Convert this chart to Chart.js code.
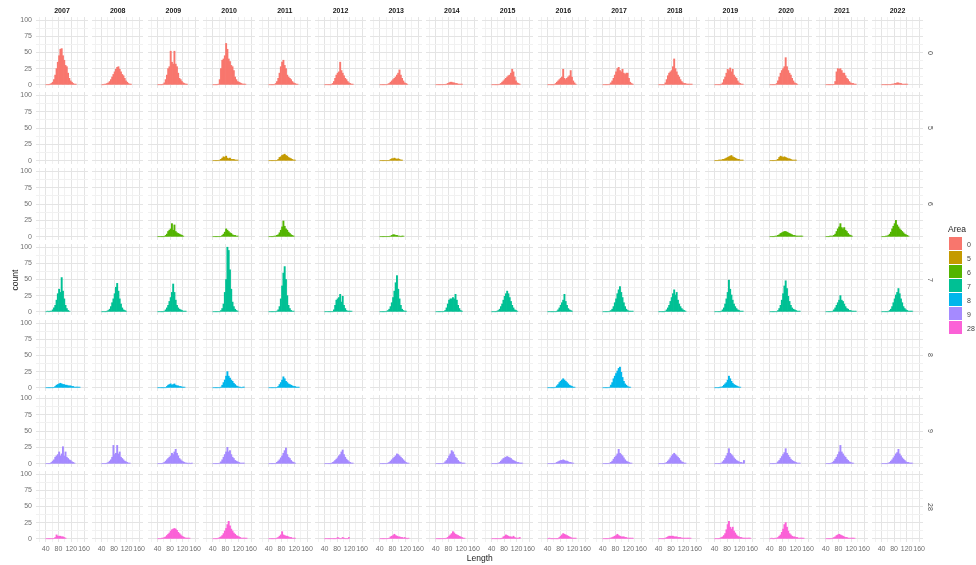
<!DOCTYPE html>
<html>
<head>
<meta charset="utf-8">
<title>Length by Area and Year</title>
<script src="https://cdn.jsdelivr.net/npm/chart.js@4.4.1/dist/chart.umd.min.js"></script>
<style>
  body { margin: 0; background: #fff; font-family: "Liberation Sans", Arial, sans-serif; }
  #wrap { position: relative; width: 976px; height: 565px; overflow: hidden; }
  #wrap canvas { position: absolute; }
  .lab { position: absolute; white-space: nowrap; line-height: 1; }
  .year { font-size: 7px; font-weight: bold; color: #1a1a1a; transform: translate(-50%, -50%); }
  .strip { font-size: 7px; color: #4d4d4d; transform: translate(-50%, -50%) rotate(90deg); }
  .key { position: absolute; width: 13px; height: 13px; }
</style>
</head>
<body>
<div id="wrap"></div>
<script>
'use strict';

var years = ['2007', '2008', '2009', '2010', '2011', '2012', '2013', '2014',
  '2015', '2016', '2017', '2018', '2019', '2020', '2021', '2022'];
var areas = ['0', '5', '6', '7', '8', '9', '28'];
var areaColors = ['#F8766D', '#C49A00', '#53B400', '#00C094', '#00B6EB', '#A58AFF', '#FB61D7'];

// histogram counts, bins of 4 starting at Length 40 (one list per year)
var binStart = 40;
var binWidth = 4;
var xTicks = [40, 80, 120, 160];
var yTicks = [0, 25, 50, 75, 100];

var area0 = [
  [0,0,0,1,2,4,8,15,25,35,45,55,56,45,38,30,28,18,10,6,4,2,1,1],
  [0,0,1,1,2,3,5,8,12,16,20,24,27,28,24,20,16,14,10,6,4,2,1,1],
  [0,0,0,0,1,3,8,15,25,28,52,35,32,52,32,28,18,10,8,5,3,2,1,1],
  [0,0,0,0,1,8,25,38,40,45,64,55,40,36,30,28,22,12,8,5,4,3,2,1,1,1],
  [0,0,0,0,0,2,5,10,18,28,35,38,30,25,15,12,10,8,5,3,2,1,1],
  [0,0,0,0,0,0,2,5,10,15,18,20,35,22,18,14,10,8,5,3,2,1,1],
  [0,0,0,0,0,0,1,2,4,6,8,10,12,15,18,23,15,10,6,3,2,1],
  [0,0,0,0,0,0,0,0,1,2,3,4,4,3,3,2,2,1,1,1,1],
  [0,0,0,0,0,0,1,2,4,6,8,10,12,14,15,18,24,20,12,6,3,2,1],
  [0,0,0,0,0,0,2,4,6,8,10,12,24,10,8,10,12,14,22,12,6,3,1],
  [0,0,0,0,0,1,3,6,10,15,20,25,27,22,20,24,18,16,18,18,10,4,2,1],
  [0,0,0,0,0,3,8,14,18,20,22,28,40,25,20,15,12,8,5,3,2,2,1,1,1,1,1],
  [0,0,0,0,0,1,3,8,12,18,24,22,26,20,24,15,12,10,6,3,2,1,1],
  [0,0,0,0,0,2,6,12,18,22,25,28,42,28,22,18,15,10,6,3,2,1],
  [0,0,0,0,0,0,0,5,20,25,24,25,22,18,18,14,10,8,5,3,2,2,1,1],
  [0,0,0,0,0,0,0,0,1,1,2,2,3,3,2,2,1,1,1,1,1]
];
var area5 = [
  [], [], [],
  [0,0,0,0,0,1,2,4,6,5,7,4,3,4,2,2,2,1,1,1],
  [0,0,0,0,0,0,0,2,5,6,8,9,10,8,7,5,4,3,2,1,1],
  [],
  [0,0,0,0,0,0,0,0,2,3,3,4,3,2,3,2,1,1],
  [], [], [], [], [],
  [0,0,0,1,1,1,2,2,3,4,5,6,7,8,6,5,4,3,2,2,1,1,1],
  [0,0,0,0,0,1,2,5,7,6,5,6,5,4,3,3,2,1,1,1,1],
  [], []
];
var area6 = [
  [], [],
  [0,0,0,0,0,0,2,4,8,10,12,20,10,18,8,6,5,4,3,2,1],
  [0,0,0,0,0,0,0,2,4,7,12,10,8,6,5,3,2,2,1,1],
  [0,0,0,0,1,1,2,3,6,10,15,24,16,12,10,7,5,3,2,1],
  [],
  [0,0,0,0,0,0,0,0,1,2,3,3,2,2,1,1,0,1,1],
  [], [], [], [], [], [],
  [0,0,0,0,1,1,2,3,5,6,7,8,8,7,6,5,4,3,2,2,1,1,1,1,1,1],
  [0,0,0,1,1,1,2,4,8,12,15,20,14,12,14,10,8,5,3,2,1],
  [0,0,0,1,1,2,4,7,12,16,20,25,18,15,12,10,8,6,4,3,2,1]
];
var area7 = [
  [0,1,0,1,1,3,6,10,18,28,35,30,53,32,20,10,5,2,1],
  [0,0,0,0,1,2,4,8,14,20,28,38,44,32,20,12,6,3,2,1],
  [0,0,0,0,0,1,3,6,10,16,22,30,43,30,18,10,6,4,3,2,1,1,1],
  [0,0,0,0,0,0,2,5,12,30,50,100,95,65,35,15,8,4,2,1],
  [0,0,0,0,0,0,1,3,8,20,40,60,70,50,25,10,5,2,1,1],
  [0,0,0,0,0,0,0,3,10,18,20,22,27,15,24,10,5,2,1,1,1,1],
  [0,0,0,0,0,1,2,4,8,14,22,32,45,56,35,20,10,4,2,1,1],
  [0,0,0,0,0,0,0,2,6,12,18,20,20,22,20,27,18,10,5,2,1],
  [0,0,0,0,1,2,4,8,12,18,24,28,32,28,22,16,10,6,3,2,1],
  [0,0,0,0,0,0,0,1,3,6,10,14,18,27,16,10,5,3,2,1],
  [0,0,0,0,0,1,2,4,8,14,20,28,34,39,30,22,14,8,4,2,1,1,1,1],
  [0,0,0,0,0,1,3,6,10,16,22,28,34,26,30,18,12,8,5,3,2,1],
  [0,0,0,0,0,1,3,6,12,20,30,49,35,26,18,12,8,5,3,2,1,1,1],
  [0,0,0,0,0,0,2,5,10,18,28,40,48,36,24,16,10,6,4,3,2,1,1,1],
  [0,0,0,0,0,1,3,6,10,14,18,25,18,16,12,8,5,4,2,2,1,1,1,1],
  [0,0,0,0,0,0,2,4,8,14,20,26,30,36,28,20,14,8,5,3,2,1,1,1,1]
];
var area8 = [
  [0,0,0,0,0,0,0,2,4,5,6,7,6,5,5,4,4,3,3,3,2,2,1,1,1,1,1],
  [],
  [0,0,0,0,0,0,0,2,4,5,6,4,5,6,4,3,3,2,2,1,1,1],
  [0,0,0,0,0,0,1,4,8,12,18,25,18,15,12,10,7,5,3,2,1,1,0,1,1],
  [0,0,0,0,0,0,0,2,5,8,12,17,14,10,8,6,5,4,3,2,2,1,1,1],
  [], [], [], [],
  [0,0,0,0,0,0,1,3,5,8,10,12,14,12,10,8,6,4,3,2,1,1],
  [0,0,0,0,0,1,4,8,14,18,22,26,30,32,24,16,10,6,4,2,1,1],
  [],
  [0,0,0,0,1,1,2,4,6,8,12,18,14,10,7,5,4,3,2,1,1],
  [], [], []
];
var area9 = [
  [0,0,0,0,2,4,6,10,12,14,18,12,15,26,12,18,10,8,6,5,3,2,1],
  [0,0,0,0,1,2,4,6,10,28,14,16,28,15,18,10,8,6,4,3,2,1,1],
  [0,0,0,0,1,2,4,6,8,10,12,16,14,18,22,16,12,8,6,4,3,2,1,1,0,1,0,1],
  [0,0,0,0,0,1,3,6,10,14,18,25,18,20,14,10,8,5,4,3,2,1,1,1,1],
  [0,0,0,0,0,0,2,4,6,9,12,16,20,24,14,10,8,5,3,2,1],
  [0,0,0,0,0,0,2,3,5,7,9,12,14,18,21,14,10,7,5,3,2,1,1],
  [0,0,0,0,0,0,1,2,4,6,8,10,12,15,14,12,10,8,6,4,2,1,1],
  [0,0,0,0,0,0,1,3,5,8,12,15,20,18,14,10,8,5,3,2,1,1,1],
  [0,0,0,0,0,1,2,4,6,8,9,10,11,10,9,8,6,5,4,3,2,2,1,1,1],
  [0,0,0,0,0,0,1,2,3,4,5,5,6,5,4,4,3,2,2,1,1],
  [0,0,0,0,0,1,2,4,7,10,12,15,22,16,14,12,9,6,4,3,2,1,1],
  [0,0,0,0,0,1,2,4,6,9,12,14,16,14,12,10,8,5,3,2,1,1],
  [0,0,0,0,0,1,3,5,8,12,16,23,16,14,12,9,7,5,4,3,2,2,1,5],
  [0,0,0,0,0,1,3,5,8,11,14,17,23,16,13,10,7,5,4,3,2,1,1,1],
  [0,0,0,0,1,2,4,7,10,14,18,28,18,15,12,10,7,5,3,2,1,1],
  [0,0,0,0,0,1,2,4,6,9,12,15,17,22,15,12,9,7,5,3,2,2,1,1,1]
];
var area28 = [
  [0,0,0,0,0,0,0,2,6,4,4,4,3,3,2,1],
  [],
  [0,0,0,1,1,2,3,5,7,9,12,14,15,16,15,13,10,8,6,4,3,2,1,1,1,1],
  [0,0,0,0,1,2,3,5,8,12,16,22,27,20,15,12,9,7,5,4,3,2,1,1,1,1,1],
  [0,0,0,0,0,0,1,2,4,6,11,6,5,4,4,3,2,2,1,1,1],
  [0,0,0,0,0,0,0,0,0,0,2,1,0,0,2,1,0,0,0,2],
  [0,0,0,0,0,0,0,1,3,4,5,7,5,4,3,3,2,2,1,2,1,0,1],
  [0,0,0,0,0,0,0,0,1,2,4,6,8,11,9,7,6,5,4,3,2,1,1],
  [0,0,0,0,0,0,0,0,1,3,4,6,5,4,3,3,2,4,2,1,1,1,2],
  [0,1,0,0,0,0,0,0,0,2,4,6,8,7,6,5,4,3,2,1,1,1,1],
  [0,0,0,0,0,1,1,2,3,4,5,7,5,4,3,3,3,2,2,1,1,1,1,1],
  [0,0,0,0,0,1,2,3,4,4,4,4,3,3,3,2,2,2,1,1,1,1,1,1,1,1],
  [0,0,0,0,1,2,3,5,8,14,22,27,18,15,18,12,9,6,4,3,2,2,1,1,1,1,1,1,1],
  [0,1,0,0,1,1,2,4,6,10,15,22,25,18,12,8,6,4,3,3,2,2,1,1,1,1,1],
  [0,0,0,0,0,1,2,3,5,6,7,6,5,4,3,2,2,1,1,1,1,1,1],
  []
];
var areaCounts = [area0, area5, area6, area7, area8, area9, area28];

// panel geometry (pixels) and axis limits
var panelLeft0 = 36.25;
var colStep = 55.7;
var panelW = 51.5;
var panelTop0 = 16.75;
var rowStep = 75.7;
var panelH = 71.5;
var edge = 4;
var xMin = 9.5, xMax = 172.5;
var yMin = -5, yMax = 105;
var fontFamily = '"Liberation Sans", Arial, sans-serif';

var wrap = document.getElementById('wrap');

function addLabel(text, cls, x, y, css) {
  var el = document.createElement('div');
  el.className = 'lab ' + cls;
  el.textContent = text;
  el.style.left = x + 'px';
  el.style.top = y + 'px';
  if (css) {
    for (var k in css) {
      el.style[k] = css[k];
    }
  }
  wrap.appendChild(el);
  return el;
}

function toPoints(counts) {
  var pts = [];
  for (var i = 0; i < counts.length; i++) {
    pts.push({x: binStart + i * binWidth + binWidth / 2, y: counts[i]});
  }
  return pts;
}

function gridColor(ctx, majors) {
  return majors.indexOf(ctx.tick.value) >= 0 ? '#e4e4e4' : '#f1f1f1';
}

function makePanel(r, c) {
  var left = Math.round(panelLeft0 + c * colStep);
  var right = Math.round(panelLeft0 + c * colStep + panelW);
  var top = Math.round(panelTop0 + r * rowStep);
  var bottom = Math.round(panelTop0 + r * rowStep + panelH);
  var padL = c === 0 ? 34 : 0;
  var padB = r === areas.length - 1 ? 16 : 0;

  var canvasEl = document.createElement('canvas');
  canvasEl.width = right - left + padL + 2 * edge;
  canvasEl.height = bottom - top + padB + 2 * edge;
  canvasEl.style.left = (left - padL - edge) + 'px';
  canvasEl.style.top = (top - edge) + 'px';
  wrap.appendChild(canvasEl);

  var counts = areaCounts[r][c];
  new Chart(canvasEl.getContext('2d'), {
    type: 'bar',
    data: {
      datasets: [{
        data: toPoints(counts),
        backgroundColor: areaColors[r],
        borderWidth: 0,
        barPercentage: 1,
        categoryPercentage: 1,
        grouped: false
      }]
    },
    options: {
      responsive: false,
      animation: false,
      events: [],
      layout: {padding: edge, autoPadding: false},
      plugins: {legend: {display: false}, tooltip: {enabled: false}},
      scales: {
        x: {
          type: 'linear',
          min: xMin,
          max: xMax,
          offset: false,
          border: {display: false},
          grid: {
            offset: false,
            drawTicks: false,
            color: function (ctx) { return gridColor(ctx, xTicks); }
          },
          ticks: {
            display: padB > 0,
            stepSize: 20,
            includeBounds: false,
            autoSkip: false,
            maxRotation: 0,
            minRotation: 0,
            padding: 3,
            color: '#707070',
            font: {size: 7, family: fontFamily},
            callback: function (v) { return xTicks.indexOf(v) >= 0 ? String(v) : ''; }
          },
          afterFit: function (scale) {
            scale.height = padB;
            scale.paddingLeft = 0;
            scale.paddingRight = 0;
          }
        },
        y: {
          type: 'linear',
          min: yMin,
          max: yMax,
          border: {display: false},
          grid: {
            drawTicks: false,
            color: function (ctx) { return gridColor(ctx, yTicks); }
          },
          ticks: {
            display: padL > 0,
            stepSize: 12.5,
            includeBounds: false,
            autoSkip: false,
            padding: 4,
            color: '#707070',
            font: {size: 7, family: fontFamily},
            callback: function (v) { return yTicks.indexOf(v) >= 0 ? String(v) : ''; }
          },
          afterFit: function (scale) {
            scale.width = padL;
            scale.paddingTop = 0;
            scale.paddingBottom = 0;
          }
        }
      }
    }
  });
}

for (var r = 0; r < areas.length; r++) {
  for (var c = 0; c < years.length; c++) {
    makePanel(r, c);
  }
}

// facet strips
for (var c2 = 0; c2 < years.length; c2++) {
  addLabel(years[c2], 'year', panelLeft0 + c2 * colStep + panelW / 2, 10);
}
var stripX = panelLeft0 + 15 * colStep + panelW + 7;
for (var r2 = 0; r2 < areas.length; r2++) {
  addLabel(areas[r2], 'strip', stripX, panelTop0 + r2 * rowStep + panelH / 2);
}

// axis titles
addLabel('count', '', 15, panelTop0 + (6 * rowStep + panelH) / 2,
  {fontSize: '8.5px', color: '#222', transform: 'translate(-50%, -50%) rotate(-90deg)'});
addLabel('Length', '', panelLeft0 + (15 * colStep + panelW) / 2, 558,
  {fontSize: '8.5px', color: '#222', transform: 'translate(-50%, -50%)'});

// legend
addLabel('Area', '', 948, 229, {fontSize: '8.5px', color: '#222', transform: 'translateY(-50%)'});
for (var k = 0; k < areas.length; k++) {
  var keyEl = document.createElement('div');
  keyEl.className = 'key';
  keyEl.style.left = '949px';
  keyEl.style.top = (237 + k * 14) + 'px';
  keyEl.style.background = areaColors[k];
  wrap.appendChild(keyEl);
  addLabel(areas[k], '', 967, 243.5 + k * 14, {fontSize: '7px', color: '#444', transform: 'translateY(-50%)'});
}
</script>
</body>
</html>
